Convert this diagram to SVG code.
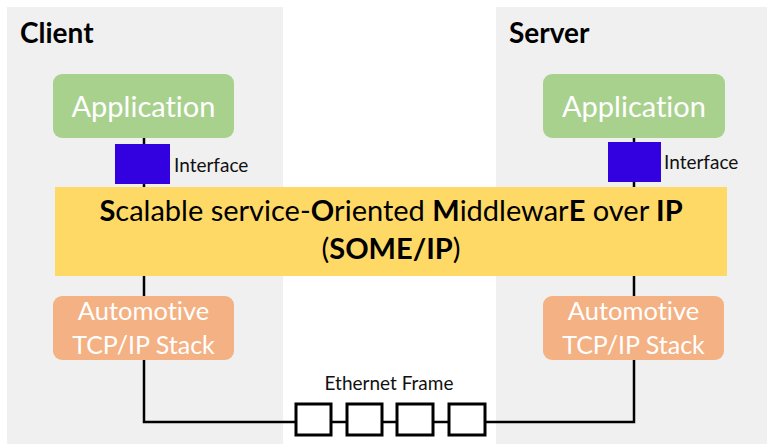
<svg xmlns="http://www.w3.org/2000/svg" width="767" height="444" viewBox="0 0 767 444">
  <style>
    text { font-family: Lato, "Open Sans", "Liberation Sans", sans-serif; font-variant-ligatures: none; }
    .panel { fill: #f0f0f0; }
    .title { font-size: 28px; font-weight: bold; fill: #000; }
    .app { fill: #a9d18e; }
    .stack { fill: #f4b183; }
    .box-label { fill: #ffffff; text-anchor: middle; }
    .iface { fill: #3300e0; }
    .small { font-size: 19px; fill: #111; }
    .band { fill: #ffd966; }
    .band-text { font-size: 29px; fill: #000; text-anchor: middle; }
    .b { font-weight: bold; }
    .wire { stroke: #000; stroke-width: 2.5; fill: none; }
    .frame { fill: #fff; stroke: #000; stroke-width: 3; }
  </style>

  <rect width="767" height="444" fill="#ffffff"/>

  <!-- side panels -->
  <g id="client-panel">
    <rect class="panel" x="7" y="7" width="276" height="437"/>
    <text class="title" x="20" y="43">Client</text>
  </g>
  <g id="server-panel">
    <rect class="panel" x="496" y="7" width="271" height="437"/>
    <text class="title" x="509" y="43">Server</text>
  </g>

  <!-- connectors -->
  <g id="connectors">
    <path class="wire" d="M144 138 V144 M144 184 V187 M144 276 V296 M144 360 V422 H295"/>
    <path class="wire" d="M634 138 V142 M634 182 V187 M634 276 V296 M634 360 V422 H485"/>
    <path class="wire" d="M331 422 H347 M382 422 H397 M433 422 H449"/>
  </g>

  <!-- client stack -->
  <g id="client-app">
    <rect class="app" x="53" y="74" width="181" height="64" rx="9"/>
    <text class="box-label" x="143.5" y="117" font-size="29">Application</text>
  </g>
  <g id="client-interface">
    <rect class="iface" x="115" y="144" width="55" height="40"/>
    <text class="small" x="174" y="172">Interface</text>
  </g>
  <g id="client-tcpip">
    <rect class="stack" x="53" y="296" width="181" height="64" rx="9"/>
    <text class="box-label" x="143.5" y="320" font-size="25.5">Automotive</text>
    <text class="box-label" x="143.5" y="354" font-size="25">TCP/IP Stack</text>
  </g>

  <!-- server stack -->
  <g id="server-app">
    <rect class="app" x="543" y="74" width="182" height="64" rx="9"/>
    <text class="box-label" x="634" y="117" font-size="29">Application</text>
  </g>
  <g id="server-interface">
    <rect class="iface" x="608" y="142" width="53" height="40"/>
    <text class="small" x="664" y="169">Interface</text>
  </g>
  <g id="server-tcpip">
    <rect class="stack" x="543" y="296" width="181" height="64" rx="9"/>
    <text class="box-label" x="633.5" y="320" font-size="25.5">Automotive</text>
    <text class="box-label" x="633.5" y="354" font-size="25">TCP/IP Stack</text>
  </g>

  <!-- middleware band -->
  <g id="someip">
    <rect class="band" x="55" y="187" width="672" height="89"/>
    <text class="band-text" x="391" y="221"><tspan class="b">S</tspan>calable service-<tspan class="b">O</tspan>riented <tspan class="b">M</tspan>iddlewar<tspan class="b">E</tspan> over <tspan class="b">IP</tspan></text>
    <text class="band-text" x="391" y="259">(<tspan class="b">SOME/IP</tspan>)</text>
  </g>

  <!-- ethernet frame -->
  <g id="ethernet-frame">
    <text class="small" x="389" y="390" text-anchor="middle">Ethernet Frame</text>
    <rect class="frame" x="296" y="404" width="35" height="31"/>
    <rect class="frame" x="347" y="404" width="35" height="31"/>
    <rect class="frame" x="397" y="404" width="36" height="31"/>
    <rect class="frame" x="449" y="404" width="36" height="31"/>
  </g>
</svg>
